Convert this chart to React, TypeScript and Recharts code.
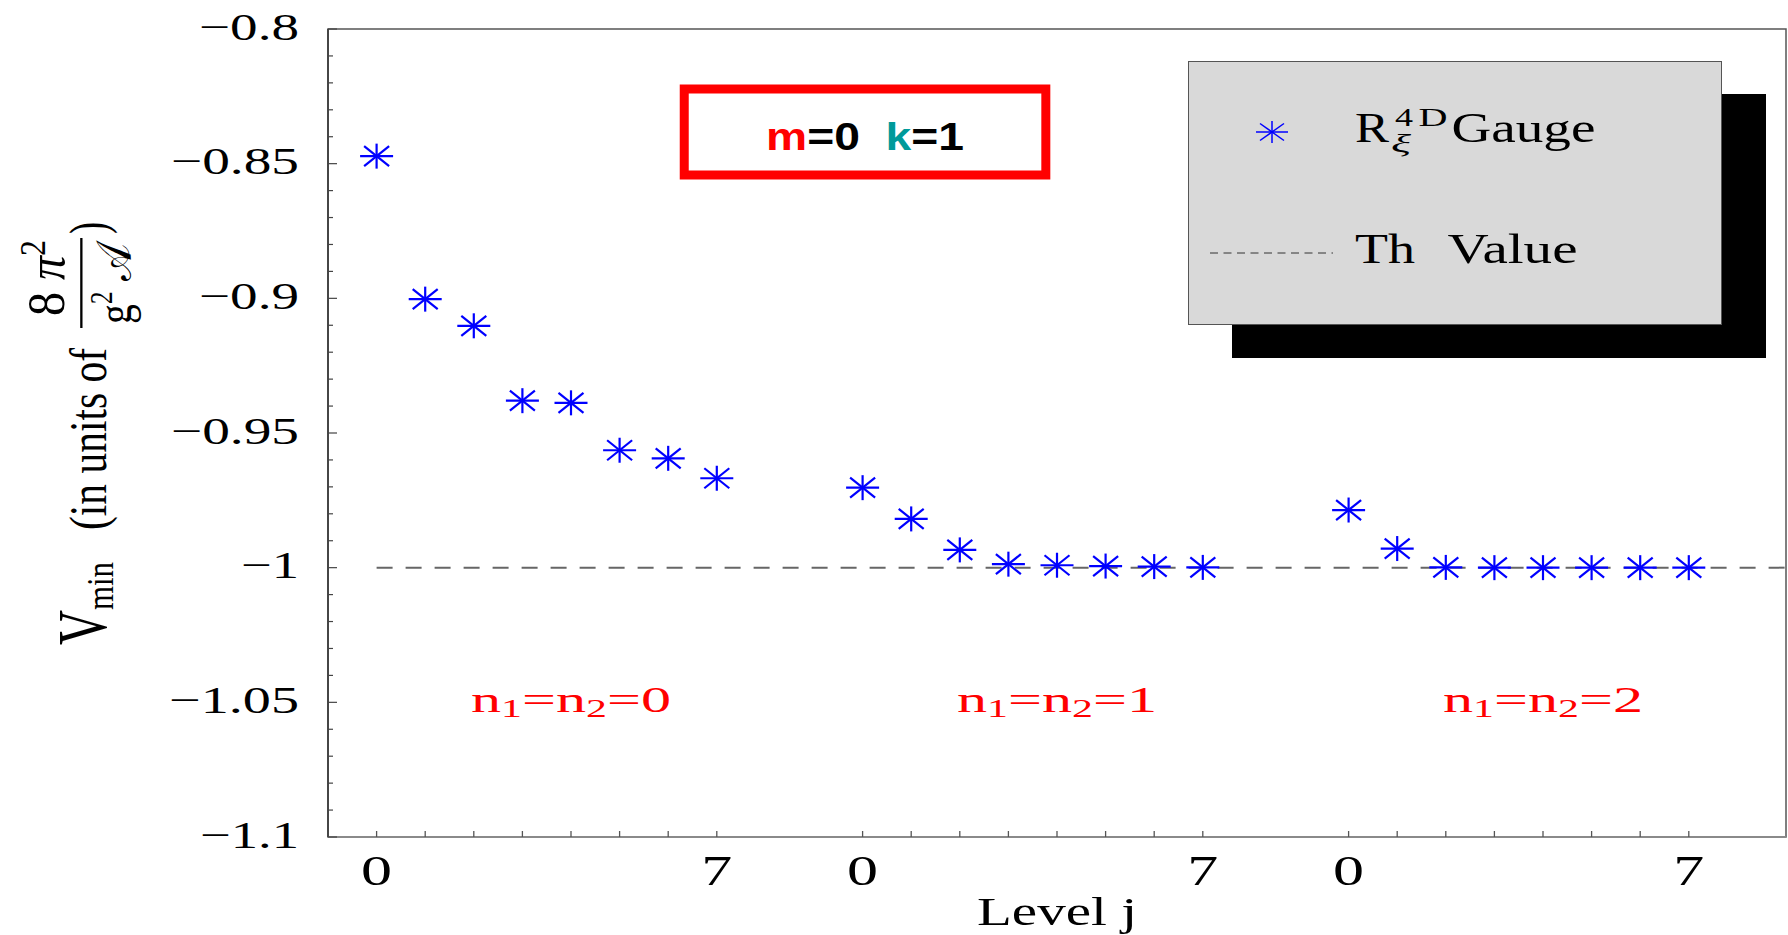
import React from 'react';
import {
  ScatterChart,
  Scatter,
  XAxis,
  YAxis,
  ReferenceLine,
  ReferenceArea,
  Legend,
} from 'recharts';

// ---------------- data ----------------
const LEVELS = [0, 1, 2, 3, 4, 5, 6, 7];
const GROUP_NAMES = ['0', '1', '2']; // n1 = n2 values
const V_N0 = [-0.8472, -0.9003, -0.9102, -0.938, -0.9388, -0.9564, -0.9594, -0.9668];
const V_N1 = [-0.9703, -0.9819, -0.9934, -0.9987, -0.9991, -0.9994, -0.9996, -0.9999];
const V_N2 = [-0.9786, -0.9929, -0.9999, -1.0, -1.0, -1.0, -1.0, -1.0];
const TH_VALUE = -1;
const LABELLED_LEVELS = [0, 7];
const Y_MAJOR_TICKS = [-1.1, -1.05, -1, -0.95, -0.9, -0.85, -0.8];
const Y_MAJOR_LABELS = ['\u22121.1', '\u22121.05', '\u22121', '\u22120.95', '\u22120.9', '\u22120.85', '\u22120.8'];
const ANNOTATION_Y = -1.05;

// ---------------- layout ----------------
const W = 1788;
const H = 935;
const YAXIS_W = 328;
const XAXIS_H = 98;
const M_TOP = 29;
const M_RIGHT = 2;
const PLOT_LEFT = YAXIS_W;
const PLOT_BOTTOM = H - XAXIS_H;
const GROUP_SPACING = 10;
const X_DOMAIN: [number, number] = [-1, 29];
const Y_DOMAIN: [number, number] = [-1.1, -0.8];

const SERIF = '"Liberation Serif", "Times New Roman", Times, serif';
const SANS = '"Liberation Sans", Arial, Helvetica, sans-serif';
const BLUE = '#0000ff';
const RED = '#ff0000';
const TEAL = '#009a9a';

const SERIES = [V_N0, V_N1, V_N2].map((vals, g) =>
  LEVELS.map((lv, i) => ({ x: g * GROUP_SPACING + lv, v: vals[i] }))
);
const ANNOTATIONS = GROUP_NAMES.map((n, g) => ({
  x: g * GROUP_SPACING + 4,
  v: ANNOTATION_Y,
  n,
}));
const X_TICKS = GROUP_NAMES.flatMap((_, g) => LEVELS.map((lv) => g * GROUP_SPACING + lv));
const Y_MINOR_TICKS: number[] = [];
for (let i = 0; i <= 30; i++) Y_MINOR_TICKS.push(Math.round((-1.1 + i * 0.01) * 100) / 100);

const Y_LABEL_LEN: Record<string, number> = {
  '\u22120.8': 100,
  '\u22120.85': 128,
  '\u22120.9': 100,
  '\u22120.95': 128,
  '\u22121': 58,
  '\u22121.05': 130,
  '\u22121.1': 99,
};

// ---------------- pieces ----------------
function Star({ cx, cy, rx = 16.5, ry = 12.5, dx = 12.5, dy = 10, sw = 2.2, color = BLUE }: any) {
  if (cx == null || cy == null) return null;
  return (
    <g stroke={color} strokeWidth={sw} fill="none">
      <line x1={cx - rx} y1={cy} x2={cx + rx} y2={cy} />
      <line x1={cx} y1={cy - ry} x2={cx} y2={cy + ry} />
      <line x1={cx - dx} y1={cy - dy} x2={cx + dx} y2={cy + dy} />
      <line x1={cx - dx} y1={cy + dy} x2={cx + dx} y2={cy - dy} />
    </g>
  );
}

function YTick(props: any) {
  const { y, payload } = props;
  const v = payload.value;
  const idx = Y_MAJOR_TICKS.findIndex((t) => Math.abs(t - v) < 1e-6);
  const major = idx >= 0;
  const label = major ? Y_MAJOR_LABELS[idx] : null;
  return (
    <g>
      <line x1={PLOT_LEFT} x2={PLOT_LEFT + (major ? 9 : 5)} y1={y} y2={y} stroke="#444" strokeWidth={1.2} />
      {label && (
        <text
          x={299}
          y={y + 10.5}
          textAnchor="end"
          fontFamily={SERIF}
          fontSize={38}
          fill="#000"
          textLength={Y_LABEL_LEN[label]}
          lengthAdjust="spacingAndGlyphs"
        >
          {label}
        </text>
      )}
    </g>
  );
}

function XTick(props: any) {
  const { x, payload } = props;
  const v = payload.value;
  const level = ((v % GROUP_SPACING) + GROUP_SPACING) % GROUP_SPACING;
  const show = LABELLED_LEVELS.includes(level);
  return (
    <g>
      <line x1={x} x2={x} y1={PLOT_BOTTOM} y2={PLOT_BOTTOM - 6} stroke="#555" strokeWidth={1.3} />
      {show && (
        <text
          x={x}
          y={PLOT_BOTTOM + 48}
          textAnchor="middle"
          fontFamily={SERIF}
          fontSize={42}
          fill="#000"
          textLength={31}
          lengthAdjust="spacingAndGlyphs"
        >
          {String(level)}
        </text>
      )}
    </g>
  );
}

function XLabel(props: any) {
  const vb = props.viewBox || { x: PLOT_LEFT, y: PLOT_BOTTOM, width: W - M_RIGHT - PLOT_LEFT, height: XAXIS_H };
  return (
    <text
      x={vb.x + vb.width / 2}
      y={vb.y + 88}
      textAnchor="middle"
      fontFamily={SERIF}
      fontSize={41}
      fill="#000"
      textLength={160}
      lengthAdjust="spacingAndGlyphs"
    >
      Level j
    </text>
  );
}

function YLabel() {
  const S = 1.45;
  return (
    <g transform={`translate(106,650) rotate(-90) scale(1,${S})`} fontFamily={SERIF} fill="#000">
      <text x={5} y={0} fontSize={48} textLength={35} lengthAdjust="spacingAndGlyphs">
        V
      </text>
      <text x={40} y={5} fontSize={26} textLength={48} lengthAdjust="spacingAndGlyphs">
        min
      </text>
      <text x={120} y={0} fontSize={36} textLength={182} lengthAdjust="spacingAndGlyphs">
        (in units of
      </text>
      <line x1={322} x2={412} y1={-17} y2={-17} stroke="#000" strokeWidth={1.6} />
      <text x={334} y={-29} fontSize={36} textLength={76} lengthAdjust="spacingAndGlyphs">
        8{'\u00A0'}
        <tspan fontStyle="italic">π</tspan>
        <tspan dy={-13} fontSize={24}>
          2
        </tspan>
      </text>
      <text x={326} y={17} fontSize={34} textLength={80} lengthAdjust="spacingAndGlyphs">
        g<tspan dy={-13} fontSize={22}>2</tspan>
        <tspan dy={13}>{'\u00A0𝒜'}</tspan>
      </text>
      <text x={416} y={0} fontSize={36}>
        )
      </text>
    </g>
  );
}

function AnnotationShape(props: any) {
  const { cx, cy, payload } = props;
  if (cx == null) return null;
  return (
    <text
      x={cx}
      y={cy + 10}
      textAnchor="middle"
      fontFamily={SERIF}
      fontSize={36}
      fill={RED}
      textLength={200}
      lengthAdjust="spacingAndGlyphs"
    >
      n
      <tspan dy={5} fontSize={25}>
        1
      </tspan>
      <tspan dy={-5}>=n</tspan>
      <tspan dy={5} fontSize={25}>
        2
      </tspan>
      <tspan dy={-5}>={payload.n}</tspan>
    </text>
  );
}

function BoxLabel(props: any) {
  const vb = props.viewBox;
  if (!vb) return null;
  return (
    <text
      x={vb.x + vb.width / 2}
      y={vb.y + 61}
      textAnchor="middle"
      fontFamily={SANS}
      fontWeight={700}
      fontSize={38}
      textLength={198}
      lengthAdjust="spacingAndGlyphs"
    >
      <tspan fill={RED}>m</tspan>
      <tspan fill="#000">{'=0\u00A0\u00A0'}</tspan>
      <tspan fill={TEAL}>k</tspan>
      <tspan fill="#000">=1</tspan>
    </text>
  );
}

function LegendBox() {
  return (
    <div
      style={{
        width: 534,
        height: 264,
        boxSizing: 'border-box',
        background: '#d9d9d9',
        border: '1px solid #555',
        boxShadow: '44px 33px 0 0 #000',
      }}
    >
      <svg width={532} height={262} style={{ display: 'block' }}>
        <Star cx={83} cy={70} rx={16} ry={11} dx={12} dy={8.5} sw={1.5} color={BLUE} />
        <g fontFamily={SERIF} fill="#000">
          <text x={166} y={80} fontSize={42} textLength={34} lengthAdjust="spacingAndGlyphs">
            R
          </text>
          <text x={202} y={90} fontSize={26} fontStyle="italic" textLength={20} lengthAdjust="spacingAndGlyphs">
            ξ
          </text>
          <text x={206} y={64} fontSize={26} textLength={18} lengthAdjust="spacingAndGlyphs">
            4
          </text>
          <text x={229.5} y={64} fontSize={26} textLength={29} lengthAdjust="spacingAndGlyphs">
            D
          </text>
          <text x={262.4} y={80} fontSize={42} textLength={144} lengthAdjust="spacingAndGlyphs">
            Gauge
          </text>
          <line x1={21} x2={144} y1={191} y2={191} stroke="#333" strokeWidth={1} strokeDasharray="8 5.5" />
          <text x={166} y={201} fontSize={42} textLength={60} lengthAdjust="spacingAndGlyphs">
            Th
          </text>
          <text x={258.5} y={201} fontSize={42} textLength={130} lengthAdjust="spacingAndGlyphs">
            Value
          </text>
        </g>
      </svg>
    </div>
  );
}

export default function App() {
  return (
    <div style={{ position: 'absolute', left: 0, top: 0, width: W, height: H, background: '#fff' }}>
      <ScatterChart
        width={W}
        height={H}
        margin={{ top: M_TOP, right: M_RIGHT, bottom: 0, left: 0 }}
        style={{ background: '#fff' }}
      >
        <XAxis
          type="number"
          dataKey="x"
          domain={X_DOMAIN}
          ticks={X_TICKS}
          interval={0}
          allowDataOverflow
          height={XAXIS_H}
          tick={<XTick />}
          tickLine={false}
          axisLine={{ stroke: '#8a8a8a', strokeWidth: 2 }}
          label={<XLabel />}
        />
        <YAxis
          type="number"
          dataKey="v"
          domain={Y_DOMAIN}
          ticks={Y_MINOR_TICKS}
          interval={0}
          allowDataOverflow
          width={YAXIS_W}
          tick={<YTick />}
          tickLine={false}
          axisLine={{ stroke: '#333', strokeWidth: 1.5 }}
          label={<YLabel />}
        />
        <ReferenceArea
          x1={X_DOMAIN[0]}
          x2={X_DOMAIN[1]}
          y1={Y_DOMAIN[0]}
          y2={Y_DOMAIN[1]}
          fill="none"
          fillOpacity={0}
          stroke="#555"
          strokeWidth={1.5}
          ifOverflow="visible"
        />
        <ReferenceLine
          segment={[
            { x: 0, y: TH_VALUE },
            { x: X_DOMAIN[1], y: TH_VALUE },
          ]}
          stroke="#666"
          strokeWidth={2}
          strokeDasharray="16 13"
          ifOverflow="visible"
        />
        <ReferenceArea
          x1={6.33}
          x2={13.77}
          y1={-0.8542}
          y2={-0.8223}
          fill="#fff"
          fillOpacity={1}
          stroke={RED}
          strokeWidth={9}
          ifOverflow="visible"
          label={<BoxLabel />}
        />
        {SERIES.map((d, g) => (
          <Scatter
            key={g}
            name={`n${g}`}
            data={d}
            isAnimationActive={false}
            shape={(p: any) => <Star cx={p.cx} cy={p.cy} />}
            legendType="none"
          />
        ))}
        <Scatter
          name="labels"
          data={ANNOTATIONS}
          isAnimationActive={false}
          shape={(p: any) => <AnnotationShape {...p} />}
          legendType="none"
        />
        <Legend
          layout="horizontal"
          verticalAlign="middle"
          align="center"
          wrapperStyle={{ left: 1188, top: 61, width: 534, height: 264 }}
          content={() => <LegendBox />}
        />
      </ScatterChart>
    </div>
  );
}
